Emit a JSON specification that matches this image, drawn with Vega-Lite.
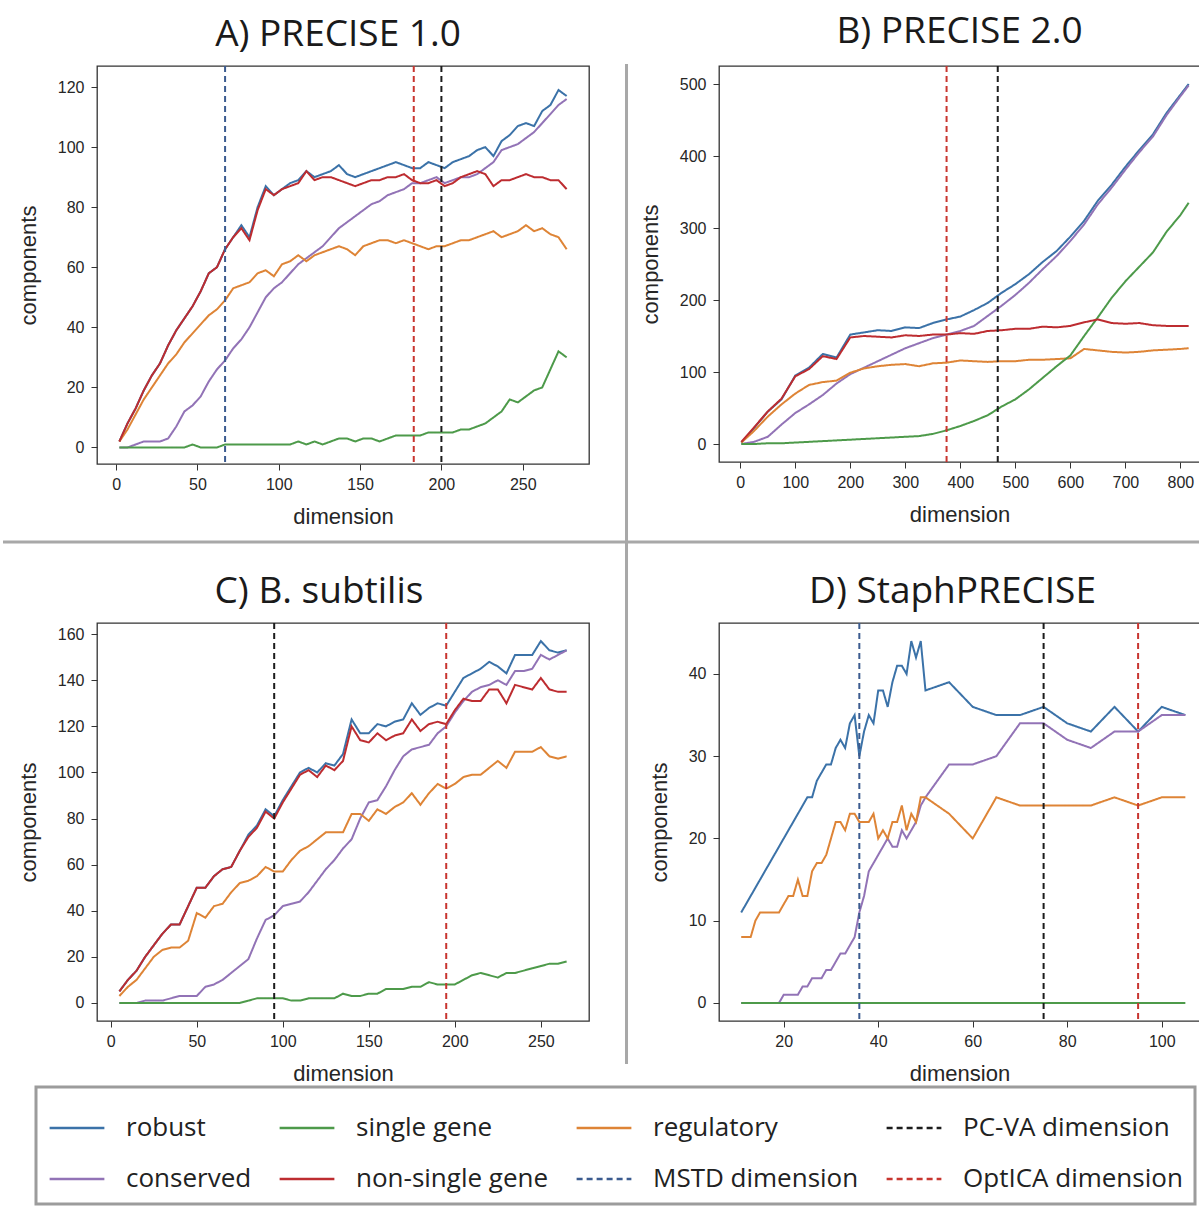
{
  "$schema": "https://vega.github.io/schema/vega-lite/v6.json",
  "background": "white",
  "padding": {"left": 0, "top": 12, "right": 0, "bottom": 0},
  "bounds": "flush",
  "columns": 2,
  "spacing": {"row": 159, "column": 130},
  "datasets": {
    "A": [
      {"x":2,"r":2,"g":0,"o":2,"c":0,"n":2},
      {"x":7,"r":8,"g":0,"o":6,"c":0,"n":8},
      {"x":12,"r":13,"g":0,"o":11,"c":1,"n":13},
      {"x":17,"r":19,"g":0,"o":16,"c":2,"n":19},
      {"x":22,"r":24,"g":0,"o":20,"c":2,"n":24},
      {"x":27,"r":28,"g":0,"o":24,"c":2,"n":28},
      {"x":32,"r":34,"g":0,"o":28,"c":3,"n":34},
      {"x":37,"r":39,"g":0,"o":31,"c":7,"n":39},
      {"x":42,"r":43,"g":0,"o":35,"c":12,"n":43},
      {"x":47,"r":47,"g":1,"o":38,"c":14,"n":47},
      {"x":52,"r":52,"g":0,"o":41,"c":17,"n":52},
      {"x":57,"r":58,"g":0,"o":44,"c":22,"n":58},
      {"x":62,"r":60,"g":0,"o":46,"c":26,"n":60},
      {"x":67,"r":66,"g":1,"o":49,"c":29,"n":66},
      {"x":72,"r":70,"g":1,"o":53,"c":33,"n":70},
      {"x":77,"r":74,"g":1,"o":54,"c":36,"n":73},
      {"x":82,"r":70,"g":1,"o":55,"c":40,"n":69},
      {"x":87,"r":80,"g":1,"o":58,"c":45,"n":79},
      {"x":92,"r":87,"g":1,"o":59,"c":50,"n":86},
      {"x":97,"r":84,"g":1,"o":57,"c":53,"n":84},
      {"x":102,"r":86,"g":1,"o":61,"c":55,"n":86},
      {"x":107,"r":88,"g":1,"o":62,"c":58,"n":87},
      {"x":112,"r":89,"g":2,"o":64,"c":61,"n":88},
      {"x":117,"r":92,"g":1,"o":62,"c":63,"n":92},
      {"x":122,"r":90,"g":2,"o":64,"c":65,"n":89},
      {"x":127,"r":91,"g":1,"o":65,"c":67,"n":90},
      {"x":132,"r":92,"g":2,"o":66,"c":70,"n":90},
      {"x":137,"r":94,"g":3,"o":67,"c":73,"n":89},
      {"x":142,"r":91,"g":3,"o":66,"c":75,"n":88},
      {"x":147,"r":90,"g":2,"o":64,"c":77,"n":87},
      {"x":152,"r":91,"g":3,"o":67,"c":79,"n":88},
      {"x":157,"r":92,"g":3,"o":68,"c":81,"n":89},
      {"x":162,"r":93,"g":2,"o":69,"c":82,"n":89},
      {"x":167,"r":94,"g":3,"o":69,"c":84,"n":90},
      {"x":172,"r":95,"g":4,"o":68,"c":85,"n":90},
      {"x":177,"r":94,"g":4,"o":69,"c":86,"n":91},
      {"x":182,"r":93,"g":4,"o":68,"c":88,"n":89},
      {"x":187,"r":93,"g":4,"o":67,"c":88,"n":88},
      {"x":192,"r":95,"g":5,"o":66,"c":89,"n":88},
      {"x":197,"r":94,"g":5,"o":67,"c":90,"n":89},
      {"x":202,"r":93,"g":5,"o":67,"c":88,"n":87},
      {"x":207,"r":95,"g":5,"o":68,"c":89,"n":88},
      {"x":212,"r":96,"g":6,"o":69,"c":90,"n":90},
      {"x":217,"r":97,"g":6,"o":69,"c":90,"n":91},
      {"x":222,"r":99,"g":7,"o":70,"c":91,"n":92},
      {"x":227,"r":100,"g":8,"o":71,"c":93,"n":91},
      {"x":232,"r":97,"g":10,"o":72,"c":95,"n":87},
      {"x":237,"r":102,"g":12,"o":70,"c":99,"n":89},
      {"x":242,"r":104,"g":16,"o":71,"c":100,"n":89},
      {"x":247,"r":107,"g":15,"o":72,"c":101,"n":90},
      {"x":252,"r":108,"g":17,"o":74,"c":103,"n":91},
      {"x":257,"r":107,"g":19,"o":72,"c":105,"n":90},
      {"x":262,"r":112,"g":20,"o":73,"c":108,"n":90},
      {"x":267,"r":114,"g":26,"o":71,"c":111,"n":89},
      {"x":272,"r":119,"g":32,"o":70,"c":114,"n":89},
      {"x":277,"r":117,"g":30,"o":66,"c":116,"n":86}
    ],
    "Av": [{"s":"ms","x":67},{"s":"op","x":183},{"s":"pv","x":200}],
    "B": [
      {"x":2,"r":2,"g":0,"o":2,"c":0,"n":3},
      {"x":25,"r":22,"g":0,"o":18,"c":3,"n":23},
      {"x":50,"r":45,"g":1,"o":38,"c":10,"n":45},
      {"x":75,"r":62,"g":1,"o":55,"c":27,"n":63},
      {"x":100,"r":95,"g":2,"o":70,"c":43,"n":94},
      {"x":125,"r":106,"g":3,"o":82,"c":55,"n":104},
      {"x":150,"r":125,"g":4,"o":86,"c":68,"n":122},
      {"x":175,"r":120,"g":5,"o":88,"c":84,"n":118},
      {"x":200,"r":152,"g":6,"o":99,"c":97,"n":148},
      {"x":225,"r":155,"g":7,"o":105,"c":106,"n":150},
      {"x":250,"r":158,"g":8,"o":108,"c":115,"n":149},
      {"x":275,"r":157,"g":9,"o":110,"c":124,"n":148},
      {"x":300,"r":162,"g":10,"o":111,"c":133,"n":151},
      {"x":325,"r":161,"g":11,"o":108,"c":140,"n":150},
      {"x":350,"r":168,"g":14,"o":112,"c":147,"n":152},
      {"x":375,"r":173,"g":19,"o":113,"c":152,"n":152},
      {"x":400,"r":177,"g":25,"o":116,"c":157,"n":154},
      {"x":425,"r":186,"g":32,"o":115,"c":164,"n":153},
      {"x":450,"r":196,"g":40,"o":114,"c":178,"n":157},
      {"x":475,"r":210,"g":52,"o":115,"c":192,"n":158},
      {"x":500,"r":222,"g":62,"o":115,"c":207,"n":160},
      {"x":525,"r":236,"g":76,"o":117,"c":224,"n":160},
      {"x":550,"r":253,"g":92,"o":117,"c":243,"n":163},
      {"x":575,"r":268,"g":108,"o":118,"c":261,"n":162},
      {"x":600,"r":288,"g":123,"o":119,"c":282,"n":164},
      {"x":625,"r":310,"g":150,"o":132,"c":305,"n":169},
      {"x":650,"r":338,"g":176,"o":130,"c":333,"n":173},
      {"x":675,"r":360,"g":203,"o":128,"c":356,"n":168},
      {"x":700,"r":385,"g":226,"o":127,"c":381,"n":167},
      {"x":725,"r":408,"g":246,"o":128,"c":405,"n":168},
      {"x":750,"r":430,"g":266,"o":130,"c":427,"n":165},
      {"x":775,"r":460,"g":295,"o":131,"c":457,"n":164},
      {"x":800,"r":485,"g":318,"o":132,"c":483,"n":164},
      {"x":815,"r":500,"g":335,"o":133,"c":498,"n":164}
    ],
    "Bv": [{"s":"op","x":375},{"s":"pv","x":468}],
    "C": [
      {"x":5,"r":5,"g":0,"o":3,"c":0,"n":5},
      {"x":10,"r":10,"g":0,"o":7,"c":0,"n":10},
      {"x":15,"r":14,"g":0,"o":10,"c":0,"n":14},
      {"x":20,"r":20,"g":0,"o":15,"c":1,"n":20},
      {"x":25,"r":25,"g":0,"o":20,"c":1,"n":25},
      {"x":30,"r":30,"g":0,"o":23,"c":1,"n":30},
      {"x":35,"r":34,"g":0,"o":24,"c":2,"n":34},
      {"x":40,"r":34,"g":0,"o":24,"c":3,"n":34},
      {"x":45,"r":42,"g":0,"o":27,"c":3,"n":42},
      {"x":50,"r":50,"g":0,"o":39,"c":3,"n":50},
      {"x":55,"r":50,"g":0,"o":37,"c":7,"n":50},
      {"x":60,"r":55,"g":0,"o":42,"c":8,"n":55},
      {"x":65,"r":58,"g":0,"o":43,"c":10,"n":58},
      {"x":70,"r":59,"g":0,"o":48,"c":13,"n":59},
      {"x":75,"r":66,"g":0,"o":52,"c":16,"n":66},
      {"x":80,"r":73,"g":1,"o":53,"c":19,"n":72},
      {"x":85,"r":77,"g":2,"o":55,"c":28,"n":76},
      {"x":90,"r":84,"g":2,"o":59,"c":36,"n":83},
      {"x":95,"r":81,"g":2,"o":57,"c":38,"n":80},
      {"x":100,"r":88,"g":2,"o":57,"c":42,"n":87},
      {"x":105,"r":94,"g":1,"o":62,"c":43,"n":93},
      {"x":110,"r":100,"g":1,"o":66,"c":44,"n":99},
      {"x":115,"r":102,"g":2,"o":68,"c":48,"n":101},
      {"x":120,"r":100,"g":2,"o":71,"c":53,"n":98},
      {"x":125,"r":104,"g":2,"o":74,"c":58,"n":103},
      {"x":130,"r":103,"g":2,"o":74,"c":62,"n":101},
      {"x":135,"r":108,"g":4,"o":74,"c":67,"n":105},
      {"x":140,"r":123,"g":3,"o":82,"c":71,"n":120},
      {"x":145,"r":117,"g":3,"o":82,"c":80,"n":114},
      {"x":150,"r":117,"g":4,"o":79,"c":87,"n":113},
      {"x":155,"r":121,"g":4,"o":84,"c":88,"n":117},
      {"x":160,"r":120,"g":6,"o":82,"c":94,"n":114},
      {"x":165,"r":122,"g":6,"o":85,"c":101,"n":116},
      {"x":170,"r":123,"g":6,"o":87,"c":107,"n":117},
      {"x":175,"r":130,"g":7,"o":91,"c":110,"n":123},
      {"x":180,"r":125,"g":7,"o":86,"c":111,"n":118},
      {"x":185,"r":128,"g":9,"o":91,"c":112,"n":121},
      {"x":190,"r":130,"g":8,"o":95,"c":117,"n":122},
      {"x":195,"r":129,"g":8,"o":93,"c":120,"n":121},
      {"x":200,"r":135,"g":8,"o":95,"c":126,"n":127},
      {"x":205,"r":141,"g":10,"o":98,"c":131,"n":132},
      {"x":210,"r":143,"g":12,"o":99,"c":135,"n":131},
      {"x":215,"r":145,"g":13,"o":99,"c":137,"n":131},
      {"x":220,"r":148,"g":12,"o":102,"c":138,"n":136},
      {"x":225,"r":146,"g":11,"o":105,"c":140,"n":136},
      {"x":230,"r":143,"g":13,"o":102,"c":138,"n":130},
      {"x":235,"r":151,"g":13,"o":109,"c":144,"n":138},
      {"x":240,"r":151,"g":14,"o":109,"c":144,"n":137},
      {"x":245,"r":151,"g":15,"o":109,"c":145,"n":136},
      {"x":250,"r":157,"g":16,"o":111,"c":151,"n":141},
      {"x":255,"r":153,"g":17,"o":107,"c":149,"n":136},
      {"x":260,"r":152,"g":17,"o":106,"c":151,"n":135},
      {"x":265,"r":153,"g":18,"o":107,"c":153,"n":135}
    ],
    "Cv": [{"s":"pv","x":95},{"s":"op","x":195}],
    "D": [
      {"x":11,"r":11,"g":0,"o":8,"c":0},
      {"x":12,"r":12,"g":0,"o":8,"c":0},
      {"x":13,"r":13,"g":0,"o":8,"c":0},
      {"x":14,"r":14,"g":0,"o":10,"c":0},
      {"x":15,"r":15,"g":0,"o":11,"c":0},
      {"x":16,"r":16,"g":0,"o":11,"c":0},
      {"x":17,"r":17,"g":0,"o":11,"c":0},
      {"x":18,"r":18,"g":0,"o":11,"c":0},
      {"x":19,"r":19,"g":0,"o":11,"c":0},
      {"x":20,"r":20,"g":0,"o":12,"c":1},
      {"x":21,"r":21,"g":0,"o":13,"c":1},
      {"x":22,"r":22,"g":0,"o":13,"c":1},
      {"x":23,"r":23,"g":0,"o":15,"c":1},
      {"x":24,"r":24,"g":0,"o":13,"c":2},
      {"x":25,"r":25,"g":0,"o":13,"c":2},
      {"x":26,"r":25,"g":0,"o":16,"c":3},
      {"x":27,"r":27,"g":0,"o":17,"c":3},
      {"x":28,"r":28,"g":0,"o":17,"c":3},
      {"x":29,"r":29,"g":0,"o":18,"c":4},
      {"x":30,"r":29,"g":0,"o":20,"c":4},
      {"x":31,"r":31,"g":0,"o":22,"c":5},
      {"x":32,"r":32,"g":0,"o":22,"c":6},
      {"x":33,"r":31,"g":0,"o":21,"c":6},
      {"x":34,"r":34,"g":0,"o":23,"c":7},
      {"x":35,"r":35,"g":0,"o":23,"c":8},
      {"x":36,"r":30,"g":0,"o":22,"c":11},
      {"x":37,"r":33,"g":0,"o":22,"c":13},
      {"x":38,"r":35,"g":0,"o":22,"c":16},
      {"x":39,"r":34,"g":0,"o":23,"c":17},
      {"x":40,"r":38,"g":0,"o":20,"c":18},
      {"x":41,"r":38,"g":0,"o":21,"c":19},
      {"x":42,"r":36,"g":0,"o":20,"c":20},
      {"x":43,"r":39,"g":0,"o":22,"c":19},
      {"x":44,"r":41,"g":0,"o":22,"c":19},
      {"x":45,"r":41,"g":0,"o":24,"c":21},
      {"x":46,"r":40,"g":0,"o":21,"c":20},
      {"x":47,"r":44,"g":0,"o":23,"c":21},
      {"x":48,"r":42,"g":0,"o":22,"c":22},
      {"x":49,"r":44,"g":0,"o":25,"c":24},
      {"x":50,"r":38,"g":0,"o":25,"c":25},
      {"x":55,"r":39,"g":0,"o":23,"c":29},
      {"x":60,"r":36,"g":0,"o":20,"c":29},
      {"x":65,"r":35,"g":0,"o":25,"c":30},
      {"x":70,"r":35,"g":0,"o":24,"c":34},
      {"x":75,"r":36,"g":0,"o":24,"c":34},
      {"x":80,"r":34,"g":0,"o":24,"c":32},
      {"x":85,"r":33,"g":0,"o":24,"c":31},
      {"x":90,"r":36,"g":0,"o":25,"c":33},
      {"x":95,"r":33,"g":0,"o":24,"c":33},
      {"x":100,"r":36,"g":0,"o":25,"c":35},
      {"x":105,"r":35,"g":0,"o":25,"c":35}
    ],
    "Dv": [{"s":"ms","x":36},{"s":"pv","x":75},{"s":"op","x":95}]
  },
  "concat": [
    {
      "width": 492, "height": 398,
      "title": {"text": "A) PRECISE 1.0", "dx": -5},
      "layer": [
        {
          "data": {"name": "A"},
          "transform": [{"fold": ["r","c","o","g","n"], "as": ["s","y"]}],
          "mark": {"type": "line", "strokeWidth": 2},
          "encoding": {
            "x": {"field": "x", "type": "quantitative", "title": "dimension", "scale": {"domain": [-11.75, 290.75], "nice": false, "zero": false}, "axis": {"values": [0,50,100,150,200,250]}},
            "y": {"field": "y", "type": "quantitative", "title": "components", "scale": {"domain": [-5.5, 127], "nice": false, "zero": false}, "axis": {"values": [0,20,40,60,80,100,120]}},
            "color": {"field": "s", "type": "nominal", "scale": {"domain": ["r","c","g","n","o","ms","pv","op"], "range": ["#3b72a8","#9273b6","#4d9a4a","#bd2c30","#de8436","#3b5b8f","#1c1c1c","#c8352f"]}, "legend": {"title": null, "labelExpr": "datum.label=='r'?'robust':datum.label=='g'?'single gene':datum.label=='o'?'regulatory':datum.label=='pv'?'PC-VA dimension':datum.label=='c'?'conserved':datum.label=='n'?'non-single gene':datum.label=='ms'?'MSTD dimension':'OptICA dimension'"}},
            "strokeDash": {"field": "s", "type": "nominal", "scale": {"domain": ["r","c","g","n","o","ms","pv","op"], "range": [[1,0],[1,0],[1,0],[1,0],[1,0],[6,4],[6,4],[6,4]]}, "legend": {"title": null, "labelExpr": "datum.label=='r'?'robust':datum.label=='g'?'single gene':datum.label=='o'?'regulatory':datum.label=='pv'?'PC-VA dimension':datum.label=='c'?'conserved':datum.label=='n'?'non-single gene':datum.label=='ms'?'MSTD dimension':'OptICA dimension'"}}
          }
        },
        {
          "data": {"name": "Av"},
          "mark": {"type": "rule", "strokeWidth": 2},
          "encoding": {
            "x": {"field": "x", "type": "quantitative", "title": "dimension"},
            "color": {"field": "s", "type": "nominal"},
            "strokeDash": {"field": "s", "type": "nominal"}
          }
        },
        {
          "data": {"values": [{"k": 1}]},
          "mark": {"type": "rule", "color": "#a8a8a8", "strokeWidth": 3},
          "encoding": {
            "x": {"datum": -69.54, "type": "quantitative", "title": "dimension"},
            "x2": {"datum": 666.42},
            "y": {"datum": -31.47, "type": "quantitative", "title": "components"}
          }
        }
      ]
    },
    {
      "width": 481, "height": 396,
      "title": {"text": "B) PRECISE 2.0", "dx": 0},
      "layer": [
        {
          "data": {"name": "B"},
          "transform": [{"fold": ["r","c","o","g","n"], "as": ["s","y"]}],
          "mark": {"type": "line", "strokeWidth": 2},
          "encoding": {
            "x": {"field": "x", "type": "quantitative", "title": "dimension", "scale": {"domain": [-38.6, 835.6], "nice": false, "zero": false}, "axis": {"values": [0,100,200,300,400,500,600,700,800]}},
            "y": {"field": "y", "type": "quantitative", "title": "components", "scale": {"domain": [-25, 525], "nice": false, "zero": false}, "axis": {"values": [0,100,200,300,400,500]}},
            "color": {"field": "s", "type": "nominal"},
            "strokeDash": {"field": "s", "type": "nominal"}
          }
        },
        {
          "data": {"name": "Bv"},
          "mark": {"type": "rule", "strokeWidth": 2},
          "encoding": {
            "x": {"field": "x", "type": "quantitative", "title": "dimension"},
            "color": {"field": "s", "type": "nominal"},
            "strokeDash": {"field": "s", "type": "nominal"}
          }
        },
        {
          "data": {"values": [{"k": 1}]},
          "mark": {"type": "rule", "color": "#a8a8a8", "strokeWidth": 3},
          "encoding": {
            "x": {"datum": -206.7, "type": "quantitative", "title": "dimension"},
            "y": {"datum": 527.8, "type": "quantitative", "title": "components"},
            "y2": {"datum": -861.1}
          }
        }
      ]
    },
    {
      "width": 492, "height": 398,
      "title": {"text": "C) B. subtilis", "dx": -24},
      "layer": [
        {
          "data": {"name": "C"},
          "transform": [{"fold": ["r","c","o","g","n"], "as": ["s","y"]}],
          "mark": {"type": "line", "strokeWidth": 2},
          "encoding": {
            "x": {"field": "x", "type": "quantitative", "title": "dimension", "scale": {"domain": [-8, 278], "nice": false, "zero": false}, "axis": {"values": [0,50,100,150,200,250]}},
            "y": {"field": "y", "type": "quantitative", "title": "components", "scale": {"domain": [-7.85, 164.85], "nice": false, "zero": false}, "axis": {"values": [0,20,40,60,80,100,120,140,160]}},
            "color": {"field": "s", "type": "nominal"},
            "strokeDash": {"field": "s", "type": "nominal"}
          }
        },
        {
          "data": {"name": "Cv"},
          "mark": {"type": "rule", "strokeWidth": 2},
          "encoding": {
            "x": {"field": "x", "type": "quantitative", "title": "dimension"},
            "color": {"field": "s", "type": "nominal"},
            "strokeDash": {"field": "s", "type": "nominal"}
          }
        }
      ]
    },
    {
      "width": 481, "height": 398,
      "title": {"text": "D) StaphPRECISE", "dx": -7},
      "layer": [
        {
          "data": {"name": "D"},
          "transform": [{"fold": ["r","c","o","g"], "as": ["s","y"]}],
          "mark": {"type": "line", "strokeWidth": 2},
          "encoding": {
            "x": {"field": "x", "type": "quantitative", "title": "dimension", "scale": {"domain": [6.3, 108.1], "nice": false, "zero": false}, "axis": {"values": [20,40,60,80,100]}},
            "y": {"field": "y", "type": "quantitative", "title": "components", "scale": {"domain": [-2.2, 46.2], "nice": false, "zero": false}, "axis": {"values": [0,10,20,30,40]}},
            "color": {"field": "s", "type": "nominal"},
            "strokeDash": {"field": "s", "type": "nominal"}
          }
        },
        {
          "data": {"name": "Dv"},
          "mark": {"type": "rule", "strokeWidth": 2},
          "encoding": {
            "x": {"field": "x", "type": "quantitative", "title": "dimension"},
            "color": {"field": "s", "type": "nominal"},
            "strokeDash": {"field": "s", "type": "nominal"}
          }
        }
      ]
    }
  ],
  "config": {
    "view": {"stroke": "#333333", "strokeWidth": 1.3},
    "title": {"font": "Open Sans", "fontSize": 37, "fontWeight": "normal", "color": "#1a1a1a", "anchor": "middle", "frame": "group", "offset": 11, "baseline": "alphabetic"},
    "axis": {"grid": false, "domain": false, "labelFont": "Liberation Sans", "labelFontSize": 16, "labelColor": "#262626", "tickColor": "#333333", "tickSize": 6, "titleFont": "Liberation Sans", "titleFontSize": 22, "titleFontWeight": "normal", "titleColor": "#262626"},
    "axisX": {"labelPadding": 6, "titlePadding": 14},
    "axisY": {"labelPadding": 7, "titlePadding": 17},
    "legend": {"orient": "none", "legendX": -61, "legendY": 1021, "columns": 4, "symbolType": "stroke", "symbolSize": 3000, "symbolStrokeWidth": 2.5, "labelFont": "Open Sans", "labelFontSize": 26, "labelColor": "#222222", "labelOffset": 20, "columnPadding": 22, "rowPadding": 9, "padding": 12, "strokeColor": "#9c9c9c", "strokeWidth": 3, "labelLimit": 0, "gridAlign": "each"}
  }
}
